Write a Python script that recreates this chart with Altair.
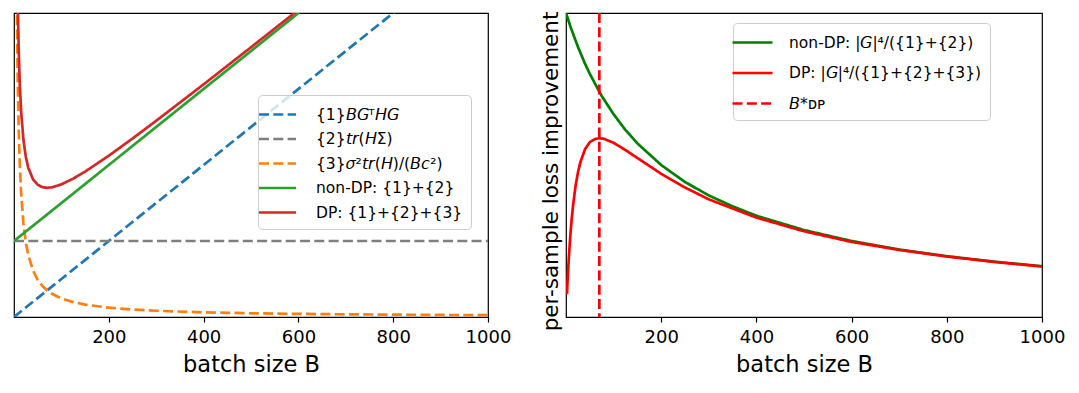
import altair as alt
import pandas as pd

FONT = "DejaVu Sans"

# ---------------- left panel values ----------------
B_lin = [0, 1000]
term1 = [0.0, 5.0]          # {1} B G^T H G (linear)
term2 = [1.0, 1.0]          # {2} tr(H Sigma) (constant)
nondp_left = [1.0, 6.0]     # {1}+{2}

B_curve = [2, 3, 4, 5, 6, 8, 10, 12, 15, 20, 25, 30, 40, 50, 60, 70, 80, 100,
           125, 150, 200, 250, 300, 400, 500, 600, 700, 800, 900, 1000]
term3 = [12.25, 8.17, 6.13, 4.9, 4.08, 3.06, 2.45, 2.04, 1.63, 1.225, 0.98, 0.817,
         0.613, 0.49, 0.408, 0.35, 0.306, 0.245, 0.196, 0.163, 0.123, 0.098, 0.082,
         0.061, 0.049, 0.041, 0.035, 0.031, 0.027, 0.025]
dp_left = [13.26, 9.18, 7.145, 5.925, 5.113, 4.10, 3.50, 3.10, 2.708, 2.325, 2.105,
           1.967, 1.8125, 1.74, 1.708, 1.70, 1.706, 1.745, 1.821, 1.913, 2.1225,
           2.348, 2.582, 3.061, 3.549, 4.041, 4.535, 5.03, 5.53, 6.02]

# ---------------- right panel values ----------------
B_right_nd = [0, 10, 25, 40, 50, 70, 75, 100, 125, 150, 200, 250, 300, 350, 400,
              500, 600, 700, 800, 900, 1000]
nondp_right = [1.0, 0.952, 0.889, 0.833, 0.8, 0.741, 0.727, 0.667, 0.615, 0.571,
               0.5, 0.444, 0.4, 0.364, 0.333, 0.286, 0.25, 0.222, 0.2, 0.182, 0.167]
dp_right = [0.0754, 0.109, 0.140, 0.169, 0.196, 0.244, 0.286, 0.323, 0.369, 0.430,
            0.475, 0.508, 0.552, 0.575, 0.585, 0.588, 0.586, 0.573, 0.549, 0.523,
            0.471, 0.426, 0.387, 0.327, 0.282, 0.247, 0.2205, 0.199, 0.181, 0.166]
B_star = [70]

# ---------------- labels ----------------
sB, sG, sH = "\U0001D609", "\U0001D60E", "\U0001D60F"
st, sr, sc = "\U0001D635", "\U0001D633", "\U0001D624"
sigma = "\U0001D70E"

labels_left = [
    "{1}" + sB + sG + "\u1D40" + sH + sG,
    "{2}" + st + sr + "(" + sH + "\u03A3)",
    "{3}" + sigma + "\u00B2" + st + sr + "(" + sH + ")/(" + sB + sc + "\u00B2)",
    "non-DP: {1}+{2}",
    "DP: {1}+{2}+{3}",
]
colors_left = ["#1f77b4", "#7f7f7f", "#ff7f0e", "#2ca02c", "#d62728"]
DASH = [10, 4.3]
SOLID = [1, 0]
dashes_left = [DASH, DASH, DASH, SOLID, SOLID]

labels_right = [
    "non-DP: |" + sG + "|\u2074/({1}+{2})",
    "DP: |" + sG + "|\u2074/({1}+{2}+{3})",
    sB + "*\u1D05\u1D18",
]
colors_right = ["#008000", "#ff0000", "#ff0000"]
dashes_right = [SOLID, SOLID, DASH]

# ---------------- data frames ----------------
rows = []
for b, v in zip(B_lin, term1):
    rows.append({"B": b, "value": v, "series": labels_left[0]})
for b, v in zip(B_lin, term2):
    rows.append({"B": b, "value": v, "series": labels_left[1]})
for b, v in zip(B_curve, term3):
    rows.append({"B": b, "value": v, "series": labels_left[2]})
for b, v in zip(B_lin, nondp_left):
    rows.append({"B": b, "value": v, "series": labels_left[3]})
for b, v in zip(B_curve, dp_left):
    rows.append({"B": b, "value": v, "series": labels_left[4]})
df_left = pd.DataFrame(rows)

rows = []
for b, v in zip(B_right_nd, nondp_right):
    rows.append({"B": b, "value": v, "series": labels_right[0]})
for b, v in zip(B_curve, dp_right):
    rows.append({"B": b, "value": v, "series": labels_right[1]})
df_right = pd.DataFrame(rows)
df_star = pd.DataFrame({"B": B_star, "series": [labels_right[2]]})

LW = 2.7

x_axis = alt.Axis(values=[200, 400, 600, 800, 1000], format="d", grid=False,
                  title="batch size B",
                  labelFontSize=18, titleFontSize=22.5, titleFontWeight="normal",
                  labelFlush=False, labelOverlap=False, tickSize=5, tickWidth=1.2,
                  labelPadding=6, titlePadding=7, domainColor="black", domainWidth=1.2,
                  tickColor="black", labelColor="black", titleColor="black",
                  labelFont=FONT, titleFont=FONT)
x_enc = alt.X("B:Q", scale=alt.Scale(domain=[0, 1000], nice=False, zero=False), axis=x_axis)


def make_legend(x, y, path, size, pad, rowpad, loff):
    return alt.Legend(title=None, orient="none", legendX=x, legendY=y,
                      symbolType=path, symbolSize=size, symbolStrokeWidth=LW,
                      labelFontSize=15.5, labelFont=FONT, labelColor="black",
                      labelLimit=400, padding=pad, rowPadding=rowpad,
                      labelOffset=loff, strokeColor="#cccccc",
                      fillColor="rgba(255,255,255,0.8)", cornerRadius=4)


leg_left = make_legend(244, 82, "M-1.85,0H1.85", 400, 8, 4.5, 27)
leg_right = make_legend(167, 10, "M-2,0H2", 400, 8, 10.5, 25)

left = alt.Chart(df_left).mark_line(clip=True, strokeWidth=LW).encode(
    x=x_enc,
    y=alt.Y("value:Q", scale=alt.Scale(domain=[0, 4], nice=False, zero=False), axis=None),
    color=alt.Color("series:N", scale=alt.Scale(domain=labels_left, range=colors_left),
                    legend=leg_left),
    strokeDash=alt.StrokeDash("series:N", scale=alt.Scale(domain=labels_left, range=dashes_left),
                              legend=leg_left),
    order=alt.Order("B:Q"),
).properties(width=474, height=304)

y_right = alt.Y("value:Q", scale=alt.Scale(domain=[0, 1], nice=False, zero=False),
                axis=alt.Axis(labels=False, ticks=False, domain=False, grid=False,
                              title="per-sample loss improvement", titleFontSize=21.5,
                              titleFontWeight="normal", titleFont=FONT, titleColor="black",
                              titlePadding=4, titleY=158))
col_r = alt.Color("series:N", scale=alt.Scale(domain=labels_right, range=colors_right),
                  legend=leg_right)
dash_r = alt.StrokeDash("series:N", scale=alt.Scale(domain=labels_right, range=dashes_right),
                        legend=leg_right)

right_lines = alt.Chart(df_right).mark_line(clip=True, strokeWidth=LW).encode(
    x=x_enc, y=y_right, color=col_r, strokeDash=dash_r, order=alt.Order("B:Q"))
right_rule = alt.Chart(df_star).mark_rule(strokeWidth=LW).encode(
    x=x_enc, color=col_r, strokeDash=dash_r)
right = alt.layer(right_lines, right_rule).properties(width=476, height=304)

chart = alt.hconcat(left, right, spacing=78, bounds="flush").resolve_scale(
    color="independent", strokeDash="independent"
).resolve_legend(color="independent", strokeDash="independent").properties(
    padding={"left": 5, "top": 2, "right": 5, "bottom": 5}
).configure(font=FONT).configure_view(stroke="black", strokeWidth=1.2)

chart.save("out.html", embed_options={"renderer": "svg", "actions": False})
